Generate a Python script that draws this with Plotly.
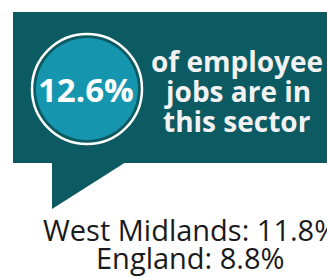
import plotly.graph_objects as go

# ---- data ----
sector_share = 12.6
description_lines = ["of employee", "jobs are in", "this sector"]
comparison_areas = ["West Midlands", "England"]
comparison_values = [11.8, 8.8]

# ---- style ----
BOX = "#0c5a62"
CIRCLE = "#1596ae"
W, H = 327, 278

fig = go.Figure()

# speech bubble body
fig.add_shape(type="rect", x0=13, y0=12, x1=330, y1=163,
              fillcolor=BOX, line=dict(width=0), layer="below")
# tail
fig.add_shape(type="path", path="M 52 162 L 52 209 L 126 162 Z",
              fillcolor=BOX, line=dict(width=0), layer="below")
# circle ring + fill
fig.add_shape(type="circle", x0=87 - 55, y0=89 - 55, x1=87 + 55, y1=89 + 55,
              fillcolor=BOX, line=dict(color="white", width=2.5))
fig.add_shape(type="circle", x0=87 - 51, y0=89 - 51, x1=87 + 51, y1=89 + 51,
              fillcolor=CIRCLE, line=dict(width=0))

fig.add_annotation(x=86, y=89, text=f"{sector_share}%", showarrow=False,
                   font=dict(family="Open Sans", size=33, color="white", weight="bold"),
                   xanchor="center", yanchor="middle")

for i, line in enumerate(description_lines):
    fig.add_annotation(x=237, y=61 + 30 * i, text=line, showarrow=False,
                       font=dict(family="Open Sans", size=28, color="#f2f2f2", weight="bold"),
                       xanchor="center", yanchor="middle")

for i, (area, val) in enumerate(zip(comparison_areas, comparison_values)):
    fig.add_annotation(x=190, y=229 + 28 * i, text=f"{area}: {val}%", showarrow=False,
                       font=dict(family="Open Sans", size=29, color="#1a1a1a"),
                       xanchor="center", yanchor="middle")

fig.update_xaxes(range=[0, W], visible=False, fixedrange=True)
fig.update_yaxes(range=[H, 0], visible=False, fixedrange=True)
fig.update_layout(width=W, height=H, margin=dict(l=0, r=0, t=0, b=0),
                  paper_bgcolor="white", plot_bgcolor="white", showlegend=False)

fig.write_html("out.html", config={"displayModeBar": False},
               post_script="document.body.style.margin='0';document.body.style.overflow='hidden';")
